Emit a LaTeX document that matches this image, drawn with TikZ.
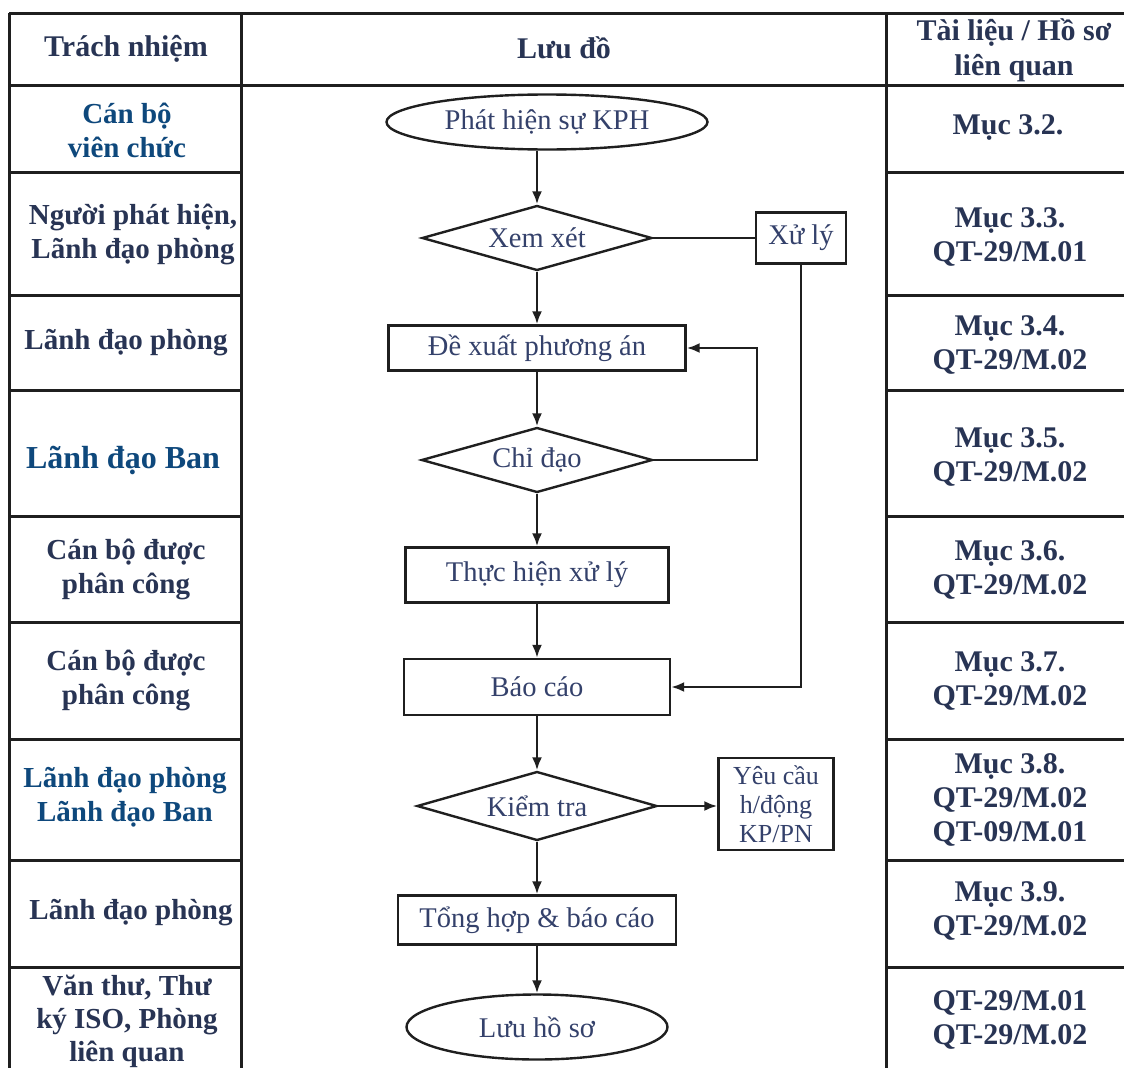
\documentclass[tikz,border=0pt]{standalone}
\usepackage{fontspec}
\setmainfont{Liberation Serif}
\usetikzlibrary{shapes.geometric,arrows.meta}
\definecolor{bluetxt}{HTML}{0E487C}
\definecolor{slatetxt}{HTML}{283454}
\definecolor{flowtxt}{HTML}{34416B}
\tikzset{
  grid/.style={line width=3pt, draw=black!88},
  celltxt/.style={inner sep=0pt, align=center, text=slatetxt, font=\fontsize{29}{34}\selectfont\bfseries},
  celldoc/.style={inner sep=0pt, align=center, text=slatetxt, font=\fontsize{30}{34}\selectfont\bfseries},
  cellblue/.style={inner sep=0pt, align=center, text=bluetxt, font=\fontsize{29}{34}\selectfont\bfseries},
  flowbase/.style={draw=black!88, line width=2.4pt, inner sep=0pt, text=flowtxt, font=\fontsize{28.5}{30}\selectfont, align=center},
  procbox/.style={flowbase, rectangle},
  decbox/.style={flowbase, diamond, aspect=3.5},
  termbox/.style={flowbase, ellipse},
  link/.style={line width=2.4pt, draw=black!88},
  arr/.style={link, -{Latex[length=13pt,width=10pt]}}
}
\begin{document}
\begin{tikzpicture}[x=1pt,y=-1pt]
\useasboundingbox[fill=white] (0,0) rectangle (1124,1068);

% ---- table grid ----
\draw[grid] (9,13) -- (1124,13);
\draw[grid] (9,85) -- (1124,85);
\draw[grid] (9,13) -- (9,1068);
\draw[grid] (241,13) -- (241,1068);
\draw[grid] (886,13) -- (886,1068);
\foreach \yy in {172,295,390,516,622,739,860,967}{
  \draw[grid] (9,\yy) -- (241,\yy);
  \draw[grid] (886,\yy) -- (1124,\yy);
}

% ---- headers ----
\node[celldoc] (h1) at (126,49) {Trách nhiệm};
\node[celldoc] (h2) at (564,48) {Lưu đồ};
\node[celldoc, font=\fontsize{30}{35}\selectfont\bfseries] (h3) at (1014,50) {Tài liệu / Hồ sơ\\liên quan};

% ---- responsibility column ----
\node[cellblue] (r1) at (127,130) {Cán bộ\\viên chức};
\node[celltxt] (r2) at (133,234) {Người phát hiện,\\Lãnh đạo phòng};
\node[celltxt] (r3) at (126,343) {Lãnh đạo phòng};
\node[cellblue, font=\fontsize{32}{36}\selectfont\bfseries] (r4) at (123,460) {Lãnh đạo Ban};
\node[celltxt] (r5) at (126,569) {Cán bộ được\\phân công};
\node[celltxt] (r6) at (126,680) {Cán bộ được\\phân công};
\node[cellblue] (r7) at (125,797) {Lãnh đạo phòng\\Lãnh đạo Ban};
\node[celltxt] (r8) at (131,913) {Lãnh đạo phòng};
\node[celltxt, font=\fontsize{29}{33}\selectfont\bfseries] (r9) at (127,1021) {Văn thư, Thư\\ký ISO, Phòng\\liên quan};

% ---- documents column ----
\node[celldoc] (d1) at (1008,128) {Mục 3.2.};
\node[celldoc] (d2) at (1010,237) {Mục 3.3.\\QT-29/M.01};
\node[celldoc] (d3) at (1010,345) {Mục 3.4.\\QT-29/M.02};
\node[celldoc] (d4) at (1010,457) {Mục 3.5.\\QT-29/M.02};
\node[celldoc] (d5) at (1010,570) {Mục 3.6.\\QT-29/M.02};
\node[celldoc] (d6) at (1010,681) {Mục 3.7.\\QT-29/M.02};
\node[celldoc] (d7) at (1010,800) {Mục 3.8.\\QT-29/M.02\\QT-09/M.01};
\node[celldoc] (d8) at (1010,911) {Mục 3.9.\\QT-29/M.02};
\node[celldoc] (d9) at (1010,1020) {QT-29/M.01\\QT-29/M.02};

% ---- flowchart ----
\node[termbox, minimum width=321pt, minimum height=55pt] (start) at (547,122) {Phát hiện sự KPH};
\node[decbox, minimum width=230pt, minimum height=65pt] (xem) at (537,238) {Xem xét};
\node[procbox, minimum width=90pt, minimum height=51pt] (xuly) at (801,238) {Xử lý};
\node[procbox, minimum width=297pt, minimum height=45pt] (dexuat) at (537,348) {Đề xuất phương án};
\node[decbox, minimum width=231pt, minimum height=65pt] (chidao) at (537,460) {Chỉ đạo};
\node[procbox, minimum width=263pt, minimum height=55pt] (thuchien) at (537,575) {Thực hiện xử lý};
\node[procbox, minimum width=266pt, minimum height=56pt] (baocao) at (537,687) {Báo cáo};
\node[decbox, minimum width=240pt, minimum height=69pt] (kiemtra) at (537,806) {Kiểm tra};
\node[procbox, minimum width=115pt, minimum height=92pt, font=\fontsize{26}{29}\selectfont] (yeucau) at (776,804) {Yêu cầu\\h/động\\KP/PN};
\node[procbox, minimum width=278pt, minimum height=49pt] (tonghop) at (537,920) {Tổng hợp \& báo cáo};
\node[termbox, minimum width=261pt, minimum height=65pt] (luu) at (537,1027) {Lưu hồ sơ};
\coordinate (loopx) at (757,460);

\draw[arr] (start.south -| xem.north) -- (xem.north);
\draw[link] (xem.east) -- (xuly.west);
\draw[arr] (xem.south) -- (dexuat.north);
\draw[arr] (dexuat.south) -- (chidao.north);
\draw[arr] (chidao.east) -- (loopx) |- (dexuat.east);
\draw[arr] (chidao.south) -- (thuchien.north);
\draw[arr] (thuchien.south) -- (baocao.north);
\draw[arr] (xuly.south) |- (baocao.east);
\draw[arr] (baocao.south) -- (kiemtra.north);
\draw[arr] (kiemtra.east) -- (kiemtra.east -| yeucau.west);
\draw[arr] (kiemtra.south) -- (tonghop.north);
\draw[arr] (tonghop.south) -- (luu.north);
\end{tikzpicture}
\end{document}
